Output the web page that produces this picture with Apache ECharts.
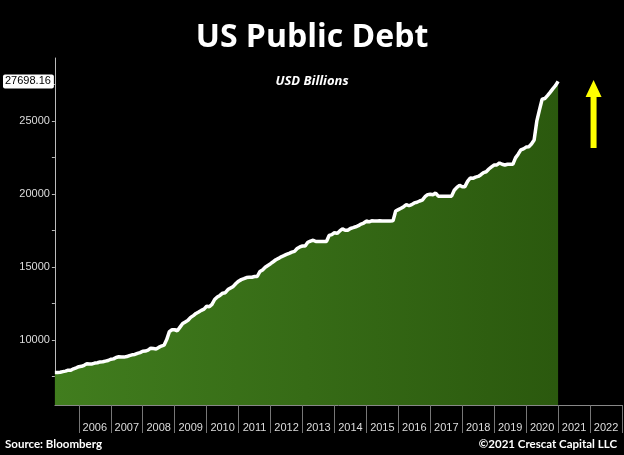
<!DOCTYPE html>
<html>
<head>
<meta charset="utf-8">
<script src="https://cdn.jsdelivr.net/npm/echarts@6/dist/echarts.min.js"></script>
<style>
html,body{margin:0;padding:0;background:#000;}
#chart{width:624px;height:455px;}
</style>
</head>
<body>
<div id="chart"></div>
<script>
// Monthly end-of-month US public debt, USD billions, starting March 2005
const startYear = 2005;
const startMonth = 3;
const debt = [
  // 2005 (Mar-Dec)
  7776, 7777, 7788, 7836, 7869, 7933, 7933, 8028, 8092, 8170,
  // 2006
  8196, 8270, 8371, 8356, 8364, 8420, 8444, 8500, 8507, 8553, 8595, 8680,
  // 2007
  8708, 8804, 8849, 8831, 8829, 8867, 8933, 8984, 9008, 9079, 9136, 9229,
  // 2008
  9238, 9301, 9437, 9413, 9386, 9492, 9585, 9645, 10025, 10570, 10700, 10700,
  // 2009
  10632, 10880, 11127, 11238, 11347, 11545, 11670, 11813, 11910, 12026, 12115, 12311,
  // 2010
  12278, 12439, 12773, 12948, 13050, 13201, 13238, 13450, 13561, 13668, 13861, 14025,
  // 2011
  14131, 14194, 14270, 14290, 14294, 14343, 14342, 14684, 14790, 14974, 15100, 15222,
  // 2012
  15356, 15491, 15582, 15692, 15771, 15856, 15933, 16016, 16066, 16261, 16370, 16433,
  // 2013
  16433, 16687, 16771, 16828, 16739, 16738, 16738, 16738, 16738, 17156, 17217, 17352,
  // 2014
  17293, 17463, 17601, 17508, 17517, 17632, 17687, 17749, 17824, 17937, 18005, 18141,
  // 2015
  18082, 18156, 18152, 18152, 18153, 18152, 18151, 18151, 18151, 18153, 18827, 18922,
  // 2016
  19013, 19126, 19264, 19187, 19265, 19381, 19428, 19511, 19573, 19805, 19948, 19977,
  // 2017
  19937, 20055, 19846, 19846, 19845, 19845, 19845, 19845, 20245, 20442, 20590, 20493,
  // 2018
  20494, 20856, 21090, 21068, 21145, 21195, 21313, 21458, 21516, 21702, 21850, 21974,
  // 2019
  21982, 22115, 22028, 21974, 22027, 22023, 22022, 22464, 22719, 23008, 23077, 23201,
  // 2020
  23225, 23410, 23687, 24974, 25747, 26477, 26525, 26728, 26945, 27183, 27402, 27698.16
];
const lastValue = 27698.16;
const yearTicks = [2006, 2007, 2008, 2009, 2010, 2011, 2012, 2013, 2014, 2015, 2016, 2017, 2018, 2019, 2020, 2021, 2022, 2023];
const yearLabels = [2006, 2007, 2008, 2009, 2010, 2011, 2012, 2013, 2014, 2015, 2016, 2017, 2018, 2019, 2020, 2021, 2022];
const yLabelValues = [10000, 15000, 20000, 25000];
const yTickValues = [7500, 10000, 12500, 15000, 17500, 20000, 22500, 25000, 27500];
const arrowPoint = [2022.11, 25460];

const seriesData = debt.map((v, i) => [startYear + (startMonth + i) / 12, v]);

const chart = echarts.init(document.getElementById('chart'), null, {renderer: 'canvas'});
const yMin = 5550, yMax = 29300;
const font = '"Open Sans", "Liberation Sans", sans-serif';
const footFont = 'Lato, "Open Sans", sans-serif';

chart.setOption({
  backgroundColor: '#000',
  animation: false,
  title: [
    {text: 'US Public Debt', left: 'center', top: 22, padding: 0,
     textStyle: {color: '#fff', fontSize: 32, fontWeight: 'bold', fontFamily: font}},
    {text: 'USD Billions', left: 'center', top: 75, padding: 0,
     textStyle: {color: '#fff', fontSize: 13, fontWeight: 'bold', fontStyle: 'italic', fontFamily: font}},
    {text: 'Source: Bloomberg', left: 5, top: 438, padding: 0,
     textStyle: {color: '#fff', fontSize: 11.5, fontWeight: 'bold', fontFamily: footFont}},
    {text: '©2021 Crescat Capital LLC', right: 7, top: 438, padding: 0,
     textStyle: {color: '#fff', fontSize: 11.5, fontWeight: 'bold', fontFamily: footFont}}
  ],
  grid: {left: 51, right: 2, top: 58, bottom: 50},
  xAxis: {
    type: 'value', min: 2005.25, max: 2023,
    splitLine: {show: false},
    axisLine: {show: true, lineStyle: {color: '#888', width: 1}},
    axisTick: {show: true, customValues: yearTicks, length: 28, lineStyle: {color: '#777'}},
    axisLabel: {show: true, customValues: yearLabels.map(y => y + 0.5),
      formatter: v => String(Math.floor(v)), color: '#ddd', fontSize: 11, margin: 17,
      fontFamily: '"Liberation Sans", sans-serif'}
  },
  yAxis: [
    {
      type: 'value', min: yMin, max: yMax, position: 'left',
      splitLine: {show: false},
      axisLine: {show: true, lineStyle: {color: '#bbb', width: 1}},
      axisTick: {show: true, customValues: yTickValues, length: 3, lineStyle: {color: '#bbb'}},
      axisLabel: {customValues: yLabelValues, formatter: v => String(v), color: '#ddd',
        fontSize: 11, margin: 5, fontFamily: '"Liberation Sans", sans-serif'}
    },
    {
      type: 'value', min: yMin, max: yMax, position: 'left', offset: 0,
      splitLine: {show: false}, axisLine: {show: false}, axisTick: {show: false},
      axisLabel: {customValues: [lastValue], formatter: v => v.toFixed(2), color: '#000',
        backgroundColor: '#fff', padding: [2, 3, 1, 2], borderRadius: 2,
        fontSize: 11, margin: 1, fontFamily: '"Liberation Sans", sans-serif'}
    }
  ],
  series: [{
    type: 'line',
    data: seriesData,
    showSymbol: false,
    symbol: 'none',
    lineStyle: {color: '#fff', width: 3.5},
    areaStyle: {
      opacity: 1,
      color: new echarts.graphic.LinearGradient(0, 0, 1, 0, [
        {offset: 0, color: '#417d1e'},
        {offset: 1, color: '#2b590e'}
      ])
    },
    markPoint: {
      symbol: 'path://M8,0L16,17L11,17L11,68L5,68L5,17L0,17Z',
      symbolSize: [16, 68],
      symbolKeepAspect: false,
      itemStyle: {color: '#ffff00'},
      label: {show: false},
      data: [{coord: arrowPoint}]
    }
  }]
});
</script>
</body>
</html>
